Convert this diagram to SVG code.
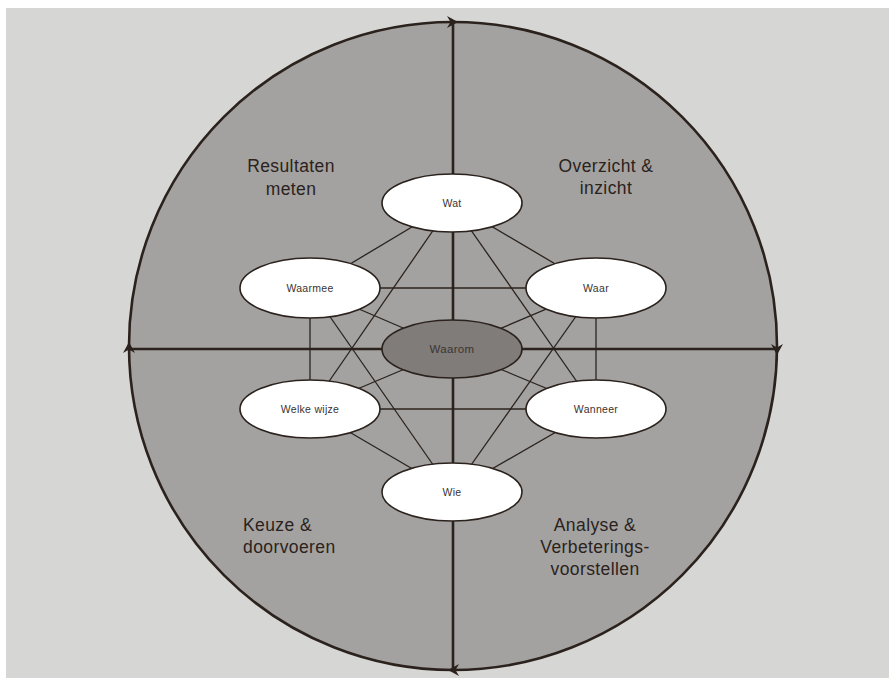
<svg xmlns="http://www.w3.org/2000/svg" width="889" height="678" viewBox="0 0 889 678">
<defs>
<style>
.edge{stroke:#2b221d;stroke-width:1.3;fill:none}
.axis{stroke:#2b221d;stroke-width:2.6;fill:none}
.node{fill:#ffffff;stroke:#2b221d;stroke-width:1.6}
.center{fill:#807c79;stroke:#2b221d;stroke-width:1.6}
.nt{font-family:"Liberation Sans",Arial,sans-serif;font-size:10.5px;fill:#3a3330;text-anchor:middle;letter-spacing:0.3px}
.ct{font-family:"Liberation Sans",Arial,sans-serif;font-size:11.5px;fill:#3b3633;text-anchor:middle;letter-spacing:0.3px}
.ql{font-family:"Liberation Sans",Arial,sans-serif;font-size:17.5px;fill:#2b221d;letter-spacing:0.4px}
.arr{fill:#2b221d}
</style>
<path id="ah" d="M0,0 L-11,-6 L-7.5,0 L-11,6 Z"/>
</defs>
<rect x="6" y="8" width="883" height="670" fill="#d6d6d4"/>
<circle cx="453" cy="346" r="324" fill="#a3a2a0" stroke="#2b221d" stroke-width="2.6"/>
<g id="arrowheads" class="arr">
<use href="#ah" transform="translate(458,22)"/>
<use href="#ah" transform="translate(777,355) rotate(90)"/>
<use href="#ah" transform="translate(448,670) rotate(180)"/>
<use href="#ah" transform="translate(129,342) rotate(-90)"/>
</g>
<g id="connectors">
<line class="axis" x1="453" y1="22" x2="453" y2="670"/>
<line class="axis" x1="129" y1="349" x2="777" y2="349"/>
<line class="edge" x1="452" y1="203" x2="310" y2="288"/>
<line class="edge" x1="452" y1="203" x2="596" y2="288"/>
<line class="edge" x1="452" y1="203" x2="310" y2="409"/>
<line class="edge" x1="452" y1="203" x2="596" y2="409"/>
<line class="edge" x1="310" y1="288" x2="596" y2="288"/>
<line class="edge" x1="310" y1="288" x2="310" y2="409"/>
<line class="edge" x1="310" y1="288" x2="452" y2="349"/>
<line class="edge" x1="310" y1="288" x2="452" y2="492"/>
<line class="edge" x1="596" y1="288" x2="596" y2="409"/>
<line class="edge" x1="596" y1="288" x2="452" y2="349"/>
<line class="edge" x1="596" y1="288" x2="452" y2="492"/>
<line class="edge" x1="310" y1="409" x2="596" y2="409"/>
<line class="edge" x1="310" y1="409" x2="452" y2="349"/>
<line class="edge" x1="310" y1="409" x2="452" y2="492"/>
<line class="edge" x1="596" y1="409" x2="452" y2="349"/>
<line class="edge" x1="596" y1="409" x2="452" y2="492"/>
</g>
<g id="node-wat"><ellipse class="node" cx="452" cy="203" rx="70" ry="29"/><text class="nt" x="452" y="207">Wat</text></g>
<g id="node-waarmee"><ellipse class="node" cx="310" cy="288" rx="70" ry="30"/><text class="nt" x="310" y="292">Waarmee</text></g>
<g id="node-waar"><ellipse class="node" cx="596" cy="288" rx="70" ry="30"/><text class="nt" x="596" y="292">Waar</text></g>
<g id="node-waarom"><ellipse class="center" cx="452" cy="349" rx="70" ry="29"/><text class="ct" x="452" y="353">Waarom</text></g>
<g id="node-welke-wijze"><ellipse class="node" cx="310" cy="409" rx="70" ry="29"/><text class="nt" x="310" y="413">Welke wijze</text></g>
<g id="node-wanneer"><ellipse class="node" cx="596" cy="409" rx="70" ry="29"/><text class="nt" x="596" y="413">Wanneer</text></g>
<g id="node-wie"><ellipse class="node" cx="452" cy="492" rx="70" ry="29"/><text class="nt" x="452" y="496">Wie</text></g>
<g id="labels">
<text class="ql" text-anchor="middle" x="291" y="172">Resultaten</text>
<text class="ql" text-anchor="middle" x="291" y="195">meten</text>
<text class="ql" text-anchor="middle" x="606" y="172">Overzicht &amp;</text>
<text class="ql" text-anchor="middle" x="606" y="194">inzicht</text>
<text class="ql" x="243" y="531">Keuze &amp;</text>
<text class="ql" x="243" y="553">doorvoeren</text>
<text class="ql" text-anchor="middle" x="595" y="531">Analyse &amp;</text>
<text class="ql" text-anchor="middle" x="595" y="553">Verbeterings-</text>
<text class="ql" text-anchor="middle" x="595" y="575">voorstellen</text>
</g>
</svg>
